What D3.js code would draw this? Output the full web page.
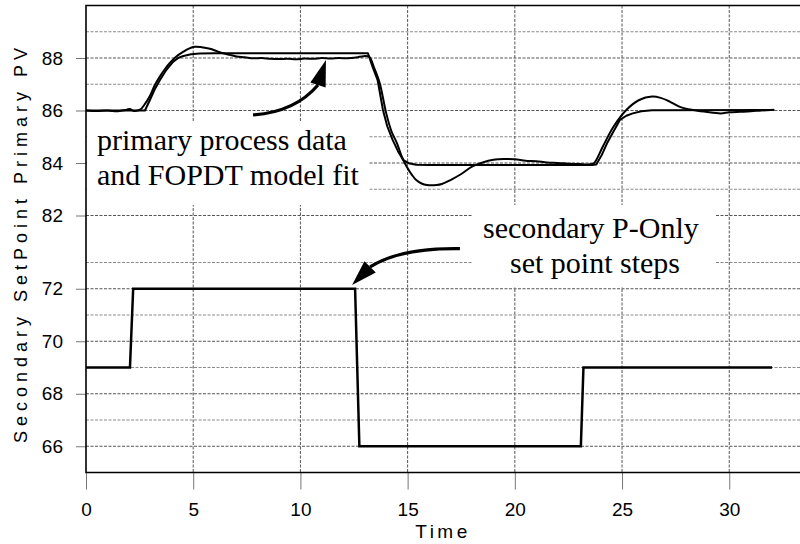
<!DOCTYPE html>
<html>
<head>
<meta charset="utf-8">
<script src="https://cdn.jsdelivr.net/npm/d3@7"></script>
<style>
  body { margin: 0; background: #fff; }
  svg { display: block; }
  .tick text { font-family: "Liberation Sans", Arial, sans-serif; font-size: 19px; fill: #000; }
  .note { font-family: "Liberation Serif", "Times New Roman", serif; font-size: 30px; fill: #000; }
</style>
</head>
<body>
<div id="chart"></div>
<script>
// time ticks and y tick labels
const timeTicks = [0, 5, 10, 15, 20, 25, 30];
const primaryTicks = [82, 84, 86, 88];
const secondaryTicks = [66, 68, 70, 72];

// primary process data (measured PV)
const pvTime = [0, 0.5, 1.0, 1.5, 1.9, 2.05, 2.2, 2.52, 2.75, 2.98, 3.2, 3.45, 3.7, 3.92, 4.2, 4.54, 4.8, 5.08, 5.4, 5.78,
  6.1, 6.4, 6.7, 7.02, 7.4, 7.8, 8.2, 8.6, 9.0, 9.4, 9.8, 10.2, 10.6, 11.0, 11.4, 11.8, 12.2, 12.6, 12.95, 13.2,
  13.45, 13.7, 14.0, 14.25, 14.5, 14.75, 14.96, 15.2, 15.4, 15.65, 15.9, 16.35, 16.6, 17.0, 17.5, 18.0, 18.5, 19.0, 19.5, 20.0,
  20.5, 21.0, 21.5, 22.0, 22.5, 23.0, 23.5, 23.7, 24.1, 24.6, 25.2, 25.8, 26.4, 26.8, 27.2, 27.7, 28.3, 28.9, 29.6, 30.0,
  30.5, 31.0, 31.5, 32.1];
const pvValue = [86.0, 85.98, 86.0, 85.97, 86.03, 86.06, 85.99, 86.03, 86.25, 86.55, 86.95, 87.3, 87.6, 87.82, 88.05, 88.24, 88.36, 88.43, 88.41, 88.35,
  88.26, 88.18, 88.12, 88.06, 88.03, 87.99, 88.0, 87.97, 87.96, 87.97, 87.95, 87.98, 87.97, 88.0, 87.98, 88.0, 87.99, 88.02, 88.07, 88.05,
  87.6, 87.04, 85.9, 85.2, 84.76, 84.2, 83.86, 83.55, 83.35, 83.22, 83.16, 83.16, 83.2, 83.35, 83.58, 83.86, 84.02, 84.12, 84.15, 84.14,
  84.09, 84.07, 84.02, 84.0, 83.97, 83.96, 83.95, 84.0, 84.62, 85.38, 86.02, 86.4, 86.53, 86.48, 86.35, 86.14, 86.02, 85.95, 85.89, 85.93,
  85.95, 85.97, 86.0, 86.03];

// FOPDT model fit
const modelTime = [0, 2.75, 2.98, 3.2, 3.45, 3.75, 4.07, 4.3, 4.54, 4.9, 5.3, 6.0, 13.15, 13.35, 13.6, 13.85, 14.05, 14.3, 14.55, 14.8,
  15.1, 15.4, 16.0, 23.6, 23.8, 24.05, 24.3, 24.6, 24.9, 25.2, 25.5, 25.9, 26.4, 32.1];
const modelValue = [86.0, 86.0, 86.4, 86.8, 87.16, 87.55, 87.86, 88.0, 88.08, 88.14, 88.17, 88.18, 88.18, 87.7, 87.16, 86.02, 85.4, 84.88, 84.45, 84.11,
  83.98, 83.93, 83.92, 83.92, 83.94, 84.3, 84.75, 85.2, 85.64, 85.8, 85.89, 85.97, 86.01, 86.02];

// secondary set point steps
const spTime = [0, 2.05, 2.2, 12.55, 12.75, 23.08, 23.2, 32];
const spValue = [69, 69, 72, 72, 66, 66, 69, 69];

const width = 800, height = 544;
const plotLeft = 86, plotTop = 5.5;

const svg = d3.select("#chart").append("svg")
  .attr("width", width)
  .attr("height", height);

const x = d3.scaleLinear().domain([0, 33.3]).range([plotLeft, 800]);
const yTop = d3.scaleLinear().domain([82, 90]).range([215.5, plotTop]);
const yBot = d3.scaleLinear().domain([65, 73]).range([472.5, 262.5]);
const plotBottom = yBot(65);

// horizontal grid
const grid = svg.append("g");
const hTop = d3.range(83, 90).map(v => ({y: yTop(v), major: v % 2 === 0})).concat([{y: yTop(82), major: true}]);
const hBot = d3.range(66, 74).map(v => ({y: yBot(v), major: v % 2 === 0}));
grid.selectAll("line.h")
  .data(hTop.concat(hBot))
  .enter().append("line")
  .attr("x1", plotLeft).attr("x2", width)
  .attr("y1", d => d.y).attr("y2", d => d.y)
  .attr("stroke", d => d.major ? "#555" : "#8a8a8a")
  .attr("stroke-width", 1)
  .attr("stroke-dasharray", "3,1.5");

// vertical grid
grid.selectAll("line.v")
  .data(timeTicks.filter(t => t > 0))
  .enter().append("line")
  .attr("x1", d => x(d)).attr("x2", d => x(d))
  .attr("y1", plotTop).attr("y2", plotBottom)
  .attr("stroke", "#555")
  .attr("stroke-width", 1)
  .attr("stroke-dasharray", "3,1.5");

// axes
const axTop = svg.append("g")
  .attr("transform", "translate(" + plotLeft + ",0)")
  .call(d3.axisLeft(yTop).tickValues(primaryTicks).tickSize(10).tickPadding(13).tickFormat(d3.format("d")));
const axBot = svg.append("g")
  .attr("transform", "translate(" + plotLeft + ",0)")
  .call(d3.axisLeft(yBot).tickValues(secondaryTicks).tickSize(10).tickPadding(13).tickFormat(d3.format("d")));
const axX = svg.append("g")
  .attr("transform", "translate(0," + plotBottom + ")")
  .call(d3.axisBottom(x).tickValues(timeTicks).tickSize(17).tickPadding(13).tickFormat(d3.format("d")));
[axTop, axBot, axX].forEach(a => {
  a.select(".domain").remove();
  a.selectAll(".tick line").attr("stroke", "#777").attr("stroke-width", 1);
});

// text boxes covering the grid
svg.append("rect").attr("x", plotLeft + 1).attr("y", 122).attr("width", 282).attr("height", 83).attr("fill", "#fff");
svg.append("rect").attr("x", 473).attr("y", 205).attr("width", 242).attr("height", 82).attr("fill", "#fff");

// frame
svg.append("path")
  .attr("d", "M" + width + "," + plotTop + "H" + plotLeft + "V" + plotBottom + "H" + width)
  .attr("fill", "none")
  .attr("stroke", "#000")
  .attr("stroke-width", 1.6);

// data lines
const lineTop = d3.line().x(d => x(d[0])).y(d => yTop(d[1]));
const lineBot = d3.line().x(d => x(d[0])).y(d => yBot(d[1]));

svg.append("path")
  .datum(d3.zip(modelTime, modelValue))
  .attr("d", lineTop)
  .attr("fill", "none").attr("stroke", "#000").attr("stroke-width", 2)
  .attr("stroke-linejoin", "round");
svg.append("path")
  .datum(d3.zip(pvTime, pvValue))
  .attr("d", lineTop.curve(d3.curveCatmullRom))
  .attr("fill", "none").attr("stroke", "#000").attr("stroke-width", 2)
  .attr("stroke-linejoin", "round");
svg.append("path")
  .datum(d3.zip(spTime, spValue))
  .attr("d", lineBot)
  .attr("fill", "none").attr("stroke", "#000").attr("stroke-width", 2.5);

// notes
const note1 = svg.append("text").attr("class", "note");
note1.append("tspan").attr("x", 97).attr("y", 150).text("primary process data");
note1.append("tspan").attr("x", 97).attr("y", 185).text("and FOPDT model fit");
const note2 = svg.append("text").attr("class", "note");
note2.append("tspan").attr("x", 483).attr("y", 238).text("secondary P-Only");
note2.append("tspan").attr("x", 510).attr("y", 273).text("set point steps");

// arrows (points in data units)
function arrow(pts, sy) {
  const p = pts.map(d => [x(d[0]), sy(d[1])]);
  const n = p.length;
  const tip = p[n - 1], base = p[n - 2];
  const dx = tip[0] - base[0], dy = tip[1] - base[1];
  const len = Math.hypot(dx, dy);
  const px = -dy / len * 8, py = dx / len * 8;
  let d = "M" + p[0];
  if (n === 4) d += "Q" + p[1] + " " + p[2];
  else d += "C" + p[1] + " " + p[2] + " " + p[3];
  svg.append("path").attr("d", d).attr("fill", "none").attr("stroke", "#000").attr("stroke-width", 3.2);
  svg.append("path")
    .attr("d", "M" + tip + "L" + [base[0] + px, base[1] + py] + "L" + [base[0] - px, base[1] - py] + "Z")
    .attr("fill", "#000");
}
arrow([[7.79, 85.83], [9.75, 85.94], [10.82, 86.97], [11.19, 87.92]], yTop);
arrow([[17.44, 73.53], [15.81, 73.55], [14.27, 73.36], [13.25, 72.83], [12.41, 72.14]], yBot);

// axis titles
svg.append("text")
  .attr("x", 443).attr("y", 538)
  .attr("text-anchor", "middle")
  .style("font-family", "Liberation Sans, Arial, sans-serif")
  .style("font-size", "19px")
  .style("letter-spacing", "3.5px")
  .text("Time");
svg.append("text")
  .attr("transform", "translate(27,243) rotate(-90)")
  .attr("text-anchor", "middle")
  .style("font-family", "Liberation Sans, Arial, sans-serif")
  .style("font-size", "18px")
  .style("letter-spacing", "5px")
  .text("Secondary SetPoint  Primary PV");
</script>
</body>
</html>
